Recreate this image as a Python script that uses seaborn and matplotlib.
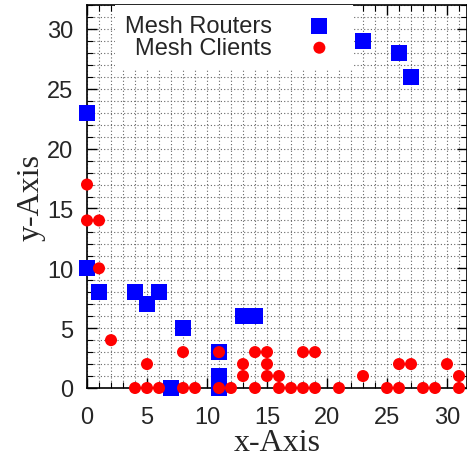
import numpy as np
import pandas as pd
import seaborn as sns
import matplotlib.pyplot as plt
from matplotlib.ticker import MultipleLocator

# router positions
router_x = [0, 0, 1, 4, 5, 6, 7, 8, 11, 11, 11, 13, 14, 23, 26, 27]
router_y = [23, 10, 8, 8, 7, 8, 0, 5, 3, 1, 0, 6, 6, 29, 28, 26]

# client positions
client_x = [0, 0, 1, 1, 2, 5, 8, 11,
            4, 5, 6, 8, 9, 11, 12, 14, 16, 17, 18, 19, 21, 25, 26, 28, 29, 31,
            13, 15, 16, 23, 31,
            13, 15, 26, 27, 30,
            14, 15, 18, 19]
client_y = [17, 14, 14, 10, 4, 2, 3, 3,
            0, 0, 0, 0, 0, 0, 0, 0, 0, 0, 0, 0, 0, 0, 0, 0, 0, 0,
            1, 1, 1, 1, 1,
            2, 2, 2, 2, 2,
            3, 3, 3, 3]

routers = pd.DataFrame({"x": router_x, "y": router_y})
clients = pd.DataFrame({"x": client_x, "y": client_y})

sns.set_style("ticks")
plt.rcParams["font.family"] = ["Liberation Sans", "DejaVu Sans"]

W, H = 467, 460
fig = plt.figure(figsize=(W / 100, H / 100), dpi=100)
xmax = 31.7
ax = fig.add_axes([87 / W, (H - 389) / H, xmax * 12 / W, 383 / H])

sns.scatterplot(data=routers, x="x", y="y", ax=ax, marker="s", s=133,
                color="#0000ff", edgecolor="none", label="Mesh Routers",
                clip_on=False, zorder=3)
sns.scatterplot(data=clients, x="x", y="y", ax=ax, marker="o", s=75,
                color="#ff0000", edgecolor="none", label="Mesh Clients",
                clip_on=False, zorder=4)

ax.set_xlim(0, xmax)
ax.set_ylim(0, 32)
ax.xaxis.set_major_locator(MultipleLocator(5))
ax.yaxis.set_major_locator(MultipleLocator(5))
ax.xaxis.set_minor_locator(MultipleLocator(1))
ax.yaxis.set_minor_locator(MultipleLocator(1))
ax.tick_params(which="both", direction="in", top=True, right=True,
               labelsize=17, color="black")
ax.tick_params(which="major", length=7, width=1)
ax.tick_params(which="minor", length=4, width=0.8)
ax.tick_params(axis="y", pad=10)
ax.tick_params(axis="x", pad=13)
# light dotted grid on every unit
ax.grid(which="both", color="#666666", linestyle=(0, (1, 2)), linewidth=0.8)
ax.set_axisbelow(True)
for sp in ax.spines.values():
    sp.set_color("black")
    sp.set_linewidth(1.2)

ax.set_xlabel("x-Axis", fontsize=23, family=["Liberation Serif", "DejaVu Serif"], labelpad=0)
ax.set_ylabel("y-Axis", fontsize=23, family=["Liberation Serif", "DejaVu Serif"], labelpad=1)

leg = ax.legend(loc="upper right", bbox_to_anchor=(0.699, 1.0), markerfirst=False,
                frameon=True, framealpha=1, edgecolor="none", fancybox=False,
                fontsize=17, handletextpad=1.0, handlelength=2.0,
                labelspacing=0.0, borderpad=0.42, borderaxespad=0)
leg.get_frame().set_facecolor("white")
leg.set_zorder(2.5)

fig.savefig("out.png", dpi=100)
